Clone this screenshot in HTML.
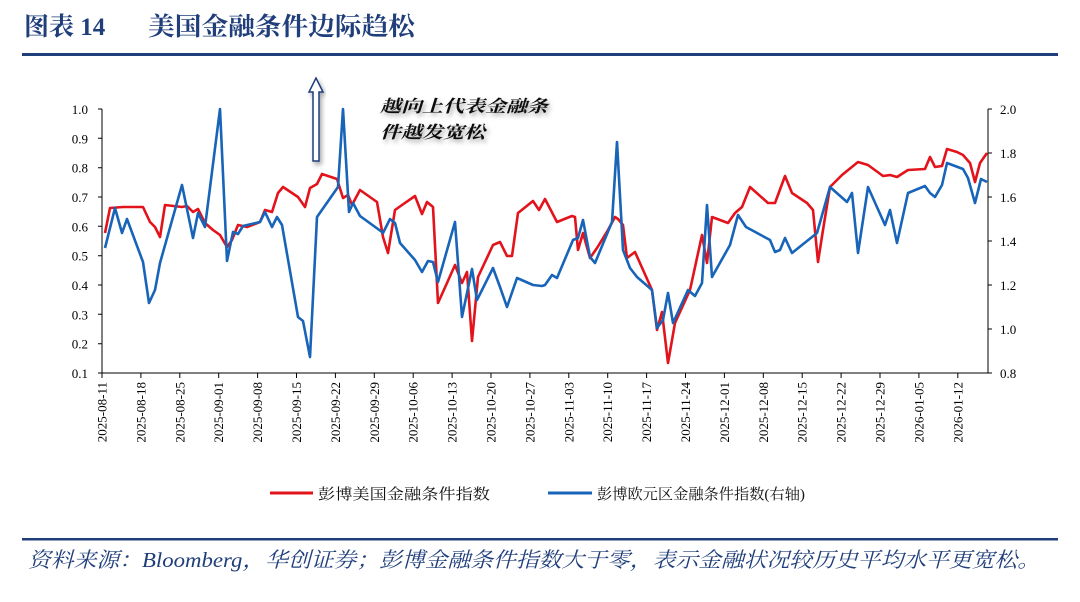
<!DOCTYPE html>
<html><head><meta charset="utf-8"><style>
body{margin:0;background:#fff;width:1080px;height:602px;overflow:hidden}
svg{display:block}
.t{font-family:"Liberation Serif","Noto Serif CJK SC",serif}
</style></head><body>
<svg width="1080" height="602" xmlns="http://www.w3.org/2000/svg">
<defs><filter id="sh" x="-20%" y="-20%" width="140%" height="160%"><feDropShadow dx="2" dy="3" stdDeviation="2.5" flood-color="#000" flood-opacity="0.35"/></filter></defs>
<text x="24" y="35" class="t" font-size="25" font-weight="bold" fill="#1f3e7a">图表 14</text>
<text x="148" y="35" class="t" font-size="25" font-weight="bold" fill="#1f3e7a" textLength="267" lengthAdjust="spacingAndGlyphs">美国金融条件边际趋松</text>
<rect x="22" y="53" width="1036" height="3" fill="#1f3e7a"/>
<g stroke="#000" stroke-width="1" fill="none">
<line x1="102" y1="109" x2="102" y2="373"/>
<line x1="988" y1="109" x2="988" y2="373"/>
<line x1="102" y1="373" x2="988" y2="373"/>
<path d="M98 373H102M98 343.7H102M98 314.3H102M98 285H102M98 255.7H102M98 226.3H102M98 197H102M98 167.7H102M98 138.3H102M98 109H102"/>
<path d="M988 373H992M988 329H992M988 285H992M988 241H992M988 197H992M988 153H992M988 109H992"/>
<path d="M102 373V378M140.9 373V378M179.8 373V378M218.7 373V378M257.6 373V378M296.5 373V378M335.4 373V378M374.3 373V378M413.2 373V378M452.1 373V378M491 373V378M529.9 373V378M568.8 373V378M607.7 373V378M646.6 373V378M685.5 373V378M724.4 373V378M763.3 373V378M802.2 373V378M841.1 373V378M880 373V378M918.9 373V378M957.8 373V378"/>
</g>
<g class="t" font-size="13" fill="#000" text-anchor="end">
<text x="88" y="378">0.1</text><text x="88" y="348.7">0.2</text><text x="88" y="319.3">0.3</text><text x="88" y="290">0.4</text><text x="88" y="260.7">0.5</text><text x="88" y="231.3">0.6</text><text x="88" y="202">0.7</text><text x="88" y="172.7">0.8</text><text x="88" y="143.3">0.9</text><text x="88" y="114">1.0</text>
</g>
<g class="t" font-size="13" fill="#000">
<text x="1000" y="378">0.8</text><text x="1000" y="334">1.0</text><text x="1000" y="290">1.2</text><text x="1000" y="246">1.4</text><text x="1000" y="202">1.6</text><text x="1000" y="158">1.8</text><text x="1000" y="114">2.0</text>
</g>
<g class="t" font-size="13" fill="#000" text-anchor="end">
<text transform="translate(106.5,382) rotate(-90)">2025-08-11</text>
<text transform="translate(145.4,382) rotate(-90)">2025-08-18</text>
<text transform="translate(184.3,382) rotate(-90)">2025-08-25</text>
<text transform="translate(223.2,382) rotate(-90)">2025-09-01</text>
<text transform="translate(262.1,382) rotate(-90)">2025-09-08</text>
<text transform="translate(301,382) rotate(-90)">2025-09-15</text>
<text transform="translate(339.9,382) rotate(-90)">2025-09-22</text>
<text transform="translate(378.8,382) rotate(-90)">2025-09-29</text>
<text transform="translate(417.7,382) rotate(-90)">2025-10-06</text>
<text transform="translate(456.6,382) rotate(-90)">2025-10-13</text>
<text transform="translate(495.5,382) rotate(-90)">2025-10-20</text>
<text transform="translate(534.4,382) rotate(-90)">2025-10-27</text>
<text transform="translate(573.3,382) rotate(-90)">2025-11-03</text>
<text transform="translate(612.2,382) rotate(-90)">2025-11-10</text>
<text transform="translate(651.1,382) rotate(-90)">2025-11-17</text>
<text transform="translate(690,382) rotate(-90)">2025-11-24</text>
<text transform="translate(728.9,382) rotate(-90)">2025-12-01</text>
<text transform="translate(767.8,382) rotate(-90)">2025-12-08</text>
<text transform="translate(806.7,382) rotate(-90)">2025-12-15</text>
<text transform="translate(845.6,382) rotate(-90)">2025-12-22</text>
<text transform="translate(884.5,382) rotate(-90)">2025-12-29</text>
<text transform="translate(923.4,382) rotate(-90)">2026-01-05</text>
<text transform="translate(962.3,382) rotate(-90)">2026-01-12</text>
</g>
<g filter="url(#sh)">
<polygon points="313,161 313,92 309,92 316,78 323,92 319,92 319,161" fill="#fff" stroke="#1f3e7a" stroke-width="1.5"/>
</g>
<g filter="url(#sh)" class="t" font-size="17" font-style="italic" font-weight="bold" fill="#111">
<text x="380" y="112" textLength="168" lengthAdjust="spacingAndGlyphs">越向上代表金融条</text>
<text x="380" y="138" textLength="105" lengthAdjust="spacingAndGlyphs">件越发宽松</text>
</g>
<polyline fill="none" stroke="#e3131b" stroke-width="2.6" stroke-linejoin="round" points="105,233 110,208 123,207 143,207 150,222 155,227 160,237 165,205 182,207 187,206 193,212 198,209 205,223 213,230 220,235 227,247 232,240 238,225 247,227 260,222 265,210 272,212 278,193 283,187 292,193 298,197 305,207 310,188 317,184 322,174 328,176 337,179 343,198 348,195 352,205 360,190 377,202 383,237 388,253 395,210 402,205 415,196 422,214 427,202 433,207 438,303 447,283 455,265 462,283 467,272 472,341 478,277 493,245 500,242 507,256 512,256 518,213 533,201 539,210 545,199 557,222 572,216 575,217 578,250 583,233 590,258 597,248 608,230 615,217 618,219 623,225 627,258 635,252 652,290 657,330 662,312 668,363 675,323 690,290 702,235 707,263 712,217 728,223 735,213 742,207 750,187 768,203 775,203 785,176 792,193 807,203 813,210 818,262 823,230 830,187 842,175 858,162 868,165 883,176 890,175 897,177 908,170 925,169 930,157 935,167 942,166 947,149 957,152 963,155 970,163 975,182 980,163 987,153"/>
<polyline fill="none" stroke="#1764b8" stroke-width="2.6" stroke-linejoin="round" points="105,248 115,208 122,233 127,219 143,262 149,303 155,290 160,263 182,185 193,238 198,213 205,227 220,109 227,261 233,232 238,234 243,226 260,222 265,212 272,227 277,217 282,225 298,317 303,321 310,357 317,217 338,187 343,109 349,212 353,203 360,216 382,232 383,233 390,219 395,223 400,243 415,260 422,272 428,261 433,262 438,282 455,222 462,317 472,269 477,300 493,268 500,287 507,307 517,278 533,285 542,286 545,285 552,275 557,278 573,240 578,238 583,220 590,257 595,263 612,222 617,142 623,250 630,268 637,277 652,290 657,328 663,320 668,293 673,323 688,290 695,296 702,283 707,205 712,277 730,245 738,215 746,227 770,240 775,252 780,250 785,238 792,253 817,233 830,187 847,202 852,193 858,253 868,187 885,225 890,210 897,243 908,193 925,186 930,193 935,197 942,185 947,163 963,169 968,178 975,203 981,179 987,182"/>
<line x1="270" y1="493" x2="313" y2="493" stroke="#e3131b" stroke-width="3"/>
<text x="318" y="499" class="t" font-size="15" fill="#111" textLength="172" lengthAdjust="spacingAndGlyphs">彭博美国金融条件指数</text>
<line x1="548" y1="493" x2="592" y2="493" stroke="#1764b8" stroke-width="3"/>
<text x="597" y="499" class="t" font-size="15" fill="#111" textLength="208" lengthAdjust="spacingAndGlyphs">彭博欧元区金融条件指数(右轴)</text>
<rect x="22" y="538" width="1036" height="2.5" fill="#1f3e7a"/>
<text x="28" y="567" class="t" font-size="21" font-style="italic" fill="#1f3e7a" textLength="1012" lengthAdjust="spacingAndGlyphs">资料来源：Bloomberg，华创证券；彭博金融条件指数大于零，表示金融状况较历史平均水平更宽松。</text>
</svg>
</body></html>
